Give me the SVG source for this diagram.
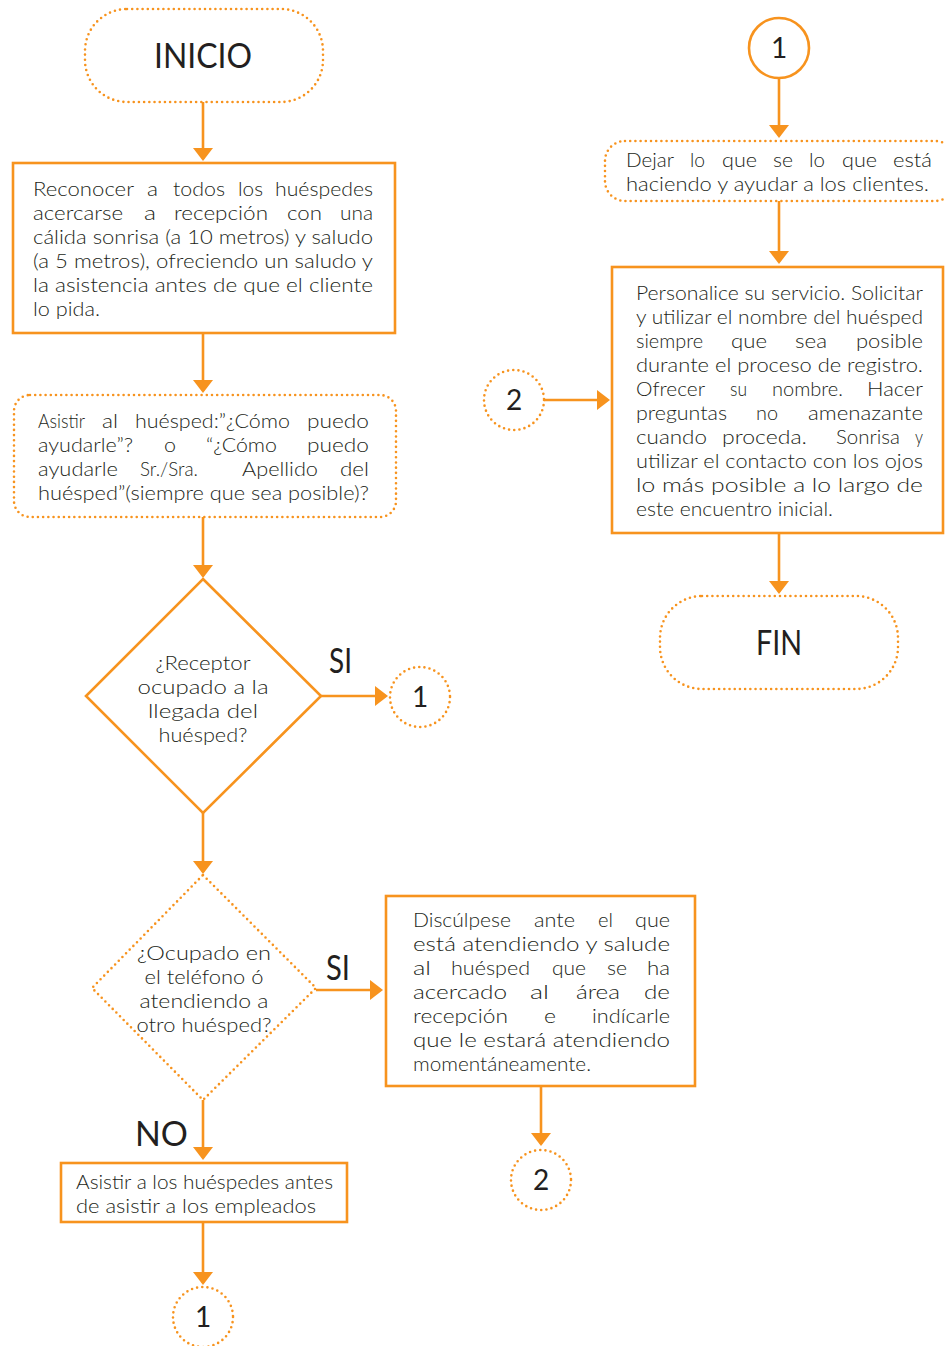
<svg xmlns="http://www.w3.org/2000/svg" width="945" height="1346" viewBox="0 0 945 1346">
  <defs>
    <style>
      .solid { fill: #ffffff; stroke: #F7931E; stroke-width: 2.6; }
      .dot { fill: #ffffff; stroke: #F7931E; stroke-width: 2.6; stroke-dasharray: 0 5.2; stroke-linecap: round; }
      .link { fill: none; stroke: #F7931E; stroke-width: 2.6; marker-end: url(#head); }
      text { font-family: Lato, "Open Sans", "Liberation Sans", sans-serif; fill: #231F20; }
      .b { font-size: 19px; font-weight: 300; }
      .c { font-size: 19px; font-weight: 300; text-anchor: middle; }
      .big { font-size: 35px; font-weight: 400; text-anchor: middle; }
      .lab { font-size: 34px; font-weight: 400; }
      .num { font-size: 28px; font-weight: 400; text-anchor: middle; }
    </style>
    <marker id="head" markerUnits="userSpaceOnUse" viewBox="0 0 13 20" refX="11" refY="10" markerWidth="13" markerHeight="20" orient="auto">
      <path d="M0,0 L13,10 L0,20 Z" fill="#F7931E"/>
    </marker>
  </defs>

  <rect width="945" height="1346" fill="#ffffff"/>

  <!-- connectors -->
  <g id="connectors">
    <path class="link" d="M203,102 V159"/>
    <path class="link" d="M203,333 V391"/>
    <path class="link" d="M203,517 V576"/>
    <path class="link" d="M321,696 H386"/>
    <path class="link" d="M203,813 V872"/>
    <path class="link" d="M316,990 H381"/>
    <path class="link" d="M203,1100 V1158"/>
    <path class="link" d="M541,1086 V1144"/>
    <path class="link" d="M203,1223 V1283"/>
    <path class="link" d="M779,78 V136"/>
    <path class="link" d="M779,201 V262"/>
    <path class="link" d="M544,400 H608"/>
    <path class="link" d="M779,533 V592"/>
  </g>

  <g id="inicio">
    <rect class="dot" x="85" y="9" width="238" height="93" rx="42"/>
    <text class="big" x="203" y="68" textLength="98" lengthAdjust="spacingAndGlyphs">INICIO</text>
  </g>

  <g id="reconocer">
    <rect class="solid" x="13" y="163" width="382" height="170"/>
    <text class="b" y="196">
      <tspan x="33" textLength="101" lengthAdjust="spacingAndGlyphs">Reconocer</tspan>
    </text>
    <text class="b" x="147" y="196" textLength="11" lengthAdjust="spacingAndGlyphs">a</text>
    <text class="b" x="173" y="196" textLength="52" lengthAdjust="spacingAndGlyphs">todos</text>
    <text class="b" x="238" y="196" textLength="25" lengthAdjust="spacingAndGlyphs">los</text>
    <text class="b" x="275" y="196" textLength="98" lengthAdjust="spacingAndGlyphs">huéspedes</text>
    <text class="b" x="33" y="220" textLength="90" lengthAdjust="spacingAndGlyphs">acercarse</text>
    <text class="b" x="144" y="220" textLength="12" lengthAdjust="spacingAndGlyphs">a</text>
    <text class="b" x="174" y="220" textLength="94" lengthAdjust="spacingAndGlyphs">recepción</text>
    <text class="b" x="287" y="220" textLength="35" lengthAdjust="spacingAndGlyphs">con</text>
    <text class="b" x="340" y="220" textLength="33" lengthAdjust="spacingAndGlyphs">una</text>
    <text class="b" x="33" y="244" textLength="340" lengthAdjust="spacingAndGlyphs">cálida sonrisa (a 10 metros) y saludo</text>
    <text class="b" x="33" y="268" textLength="340" lengthAdjust="spacingAndGlyphs">(a 5 metros), ofreciendo un saludo y</text>
    <text class="b" x="33" y="292" textLength="340" lengthAdjust="spacingAndGlyphs">la asistencia antes de que el cliente</text>
    <text class="b" x="33" y="316" textLength="67" lengthAdjust="spacingAndGlyphs">lo pida.</text>
  </g>

  <g id="asistir-huesped">
    <rect class="dot" x="14" y="395" width="382" height="122" rx="16"/>
    <text class="b" x="38" y="428" textLength="47" lengthAdjust="spacingAndGlyphs">Asistir</text>
    <text class="b" x="102" y="428" textLength="16" lengthAdjust="spacingAndGlyphs">al</text>
    <text class="b" x="135" y="428" textLength="155" lengthAdjust="spacingAndGlyphs">huésped:”¿Cómo</text>
    <text class="b" x="307" y="428" textLength="62" lengthAdjust="spacingAndGlyphs">puedo</text>
    <text class="b" x="38" y="452" textLength="95" lengthAdjust="spacingAndGlyphs">ayudarle”?</text>
    <text class="b" x="164" y="452" textLength="12" lengthAdjust="spacingAndGlyphs">o</text>
    <text class="b" x="206" y="452" textLength="71" lengthAdjust="spacingAndGlyphs">“¿Cómo</text>
    <text class="b" x="307" y="452" textLength="62" lengthAdjust="spacingAndGlyphs">puedo</text>
    <text class="b" x="38" y="476" textLength="80" lengthAdjust="spacingAndGlyphs">ayudarle</text>
    <text class="b" x="140" y="476" textLength="58" lengthAdjust="spacingAndGlyphs">Sr./Sra.</text>
    <text class="b" x="242" y="476" textLength="76" lengthAdjust="spacingAndGlyphs">Apellido</text>
    <text class="b" x="340" y="476" textLength="29" lengthAdjust="spacingAndGlyphs">del</text>
    <text class="b" x="38" y="500" textLength="331" lengthAdjust="spacingAndGlyphs">huésped”(siempre que sea posible)?</text>
  </g>

  <g id="receptor-ocupado">
    <polygon class="solid" points="203,579 321,696 203,813 86,696"/>
    <text class="c" x="203" y="670" textLength="95" lengthAdjust="spacingAndGlyphs">¿Receptor</text>
    <text class="c" x="203" y="694" textLength="131" lengthAdjust="spacingAndGlyphs">ocupado a la</text>
    <text class="c" x="203" y="718" textLength="110" lengthAdjust="spacingAndGlyphs">llegada del</text>
    <text class="c" x="203" y="742" textLength="89" lengthAdjust="spacingAndGlyphs">huésped?</text>
    <text class="lab" x="329" y="673" textLength="23" lengthAdjust="spacingAndGlyphs">SI</text>
  </g>

  <g id="conector-1a">
    <circle class="dot" cx="420" cy="697" r="30"/>
    <text class="num" x="420" y="707">1</text>
  </g>

  <g id="ocupado-telefono">
    <polygon class="dot" points="203,875 316,988 203,1100 92,988"/>
    <text class="c" x="204" y="960" textLength="134" lengthAdjust="spacingAndGlyphs">¿Ocupado en</text>
    <text class="c" x="204" y="984" textLength="119" lengthAdjust="spacingAndGlyphs">el teléfono ó</text>
    <text class="c" x="204" y="1008" textLength="129" lengthAdjust="spacingAndGlyphs">atendiendo a</text>
    <text class="c" x="204" y="1032" textLength="135" lengthAdjust="spacingAndGlyphs">otro huésped?</text>
    <text class="lab" x="326" y="980" textLength="24" lengthAdjust="spacingAndGlyphs">SI</text>
    <text class="lab" x="135" y="1146" textLength="53" lengthAdjust="spacingAndGlyphs">NO</text>
  </g>

  <g id="disculpese">
    <rect class="solid" x="386" y="896" width="309" height="190"/>
    <text class="b" x="413" y="927" textLength="98" lengthAdjust="spacingAndGlyphs">Discúlpese</text>
    <text class="b" x="534" y="927" textLength="41" lengthAdjust="spacingAndGlyphs">ante</text>
    <text class="b" x="598" y="927" textLength="15" lengthAdjust="spacingAndGlyphs">el</text>
    <text class="b" x="635" y="927" textLength="35" lengthAdjust="spacingAndGlyphs">que</text>
    <text class="b" x="413" y="951" textLength="257" lengthAdjust="spacingAndGlyphs">está atendiendo y salude</text>
    <text class="b" x="413" y="975" textLength="18" lengthAdjust="spacingAndGlyphs">al</text>
    <text class="b" x="451" y="975" textLength="79" lengthAdjust="spacingAndGlyphs">huésped</text>
    <text class="b" x="552" y="975" textLength="34" lengthAdjust="spacingAndGlyphs">que</text>
    <text class="b" x="607" y="975" textLength="20" lengthAdjust="spacingAndGlyphs">se</text>
    <text class="b" x="647" y="975" textLength="23" lengthAdjust="spacingAndGlyphs">ha</text>
    <text class="b" x="413" y="999" textLength="94" lengthAdjust="spacingAndGlyphs">acercado</text>
    <text class="b" x="530" y="999" textLength="19" lengthAdjust="spacingAndGlyphs">al</text>
    <text class="b" x="576" y="999" textLength="44" lengthAdjust="spacingAndGlyphs">área</text>
    <text class="b" x="644" y="999" textLength="26" lengthAdjust="spacingAndGlyphs">de</text>
    <text class="b" x="413" y="1023" textLength="95" lengthAdjust="spacingAndGlyphs">recepción</text>
    <text class="b" x="544" y="1023" textLength="12" lengthAdjust="spacingAndGlyphs">e</text>
    <text class="b" x="592" y="1023" textLength="78" lengthAdjust="spacingAndGlyphs">indícarle</text>
    <text class="b" x="413" y="1047" textLength="257" lengthAdjust="spacingAndGlyphs">que le estará atendiendo</text>
    <text class="b" x="413" y="1071" textLength="178" lengthAdjust="spacingAndGlyphs">momentáneamente.</text>
  </g>

  <g id="conector-2a">
    <circle class="dot" cx="541" cy="1180" r="30"/>
    <text class="num" x="541" y="1190">2</text>
  </g>

  <g id="asistir-antes">
    <rect class="solid" x="61" y="1163" width="286" height="59"/>
    <text class="b" x="76" y="1189" textLength="257" lengthAdjust="spacingAndGlyphs">Asistir a los huéspedes antes</text>
    <text class="b" x="76" y="1213" textLength="240" lengthAdjust="spacingAndGlyphs">de asistir a los empleados</text>
  </g>

  <g id="conector-1b">
    <circle class="dot" cx="203" cy="1317" r="30"/>
    <text class="num" x="203" y="1327">1</text>
  </g>

  <g id="conector-1c">
    <circle class="solid" cx="779" cy="48" r="30"/>
    <text class="num" x="779" y="58">1</text>
  </g>

  <g id="dejar">
    <rect class="dot" x="605" y="141" width="350" height="60" rx="20"/>
    <text class="b" x="626" y="167" textLength="48" lengthAdjust="spacingAndGlyphs">Dejar</text>
    <text class="b" x="690" y="167" textLength="15" lengthAdjust="spacingAndGlyphs">lo</text>
    <text class="b" x="722" y="167" textLength="35" lengthAdjust="spacingAndGlyphs">que</text>
    <text class="b" x="773" y="167" textLength="20" lengthAdjust="spacingAndGlyphs">se</text>
    <text class="b" x="809" y="167" textLength="16" lengthAdjust="spacingAndGlyphs">lo</text>
    <text class="b" x="842" y="167" textLength="35" lengthAdjust="spacingAndGlyphs">que</text>
    <text class="b" x="893" y="167" textLength="39" lengthAdjust="spacingAndGlyphs">está</text>
    <text class="b" x="626" y="191" textLength="303" lengthAdjust="spacingAndGlyphs">haciendo y ayudar a los clientes.</text>
  </g>

  <g id="conector-2b">
    <circle class="dot" cx="514" cy="400" r="30"/>
    <text class="num" x="514" y="410">2</text>
  </g>

  <g id="personalice">
    <rect class="solid" x="612" y="267" width="331" height="266"/>
    <text class="b" x="636" y="300" textLength="287" lengthAdjust="spacingAndGlyphs">Personalice su servicio. Solicitar</text>
    <text class="b" x="636" y="324" textLength="287" lengthAdjust="spacingAndGlyphs">y utilizar el nombre del huésped</text>
    <text class="b" x="636" y="348" textLength="67" lengthAdjust="spacingAndGlyphs">siempre</text>
    <text class="b" x="731" y="348" textLength="36" lengthAdjust="spacingAndGlyphs">que</text>
    <text class="b" x="795" y="348" textLength="32" lengthAdjust="spacingAndGlyphs">sea</text>
    <text class="b" x="856" y="348" textLength="67" lengthAdjust="spacingAndGlyphs">posible</text>
    <text class="b" x="636" y="372" textLength="287" lengthAdjust="spacingAndGlyphs">durante el proceso de registro.</text>
    <text class="b" x="636" y="396" textLength="69" lengthAdjust="spacingAndGlyphs">Ofrecer</text>
    <text class="b" x="730" y="396" textLength="17" lengthAdjust="spacingAndGlyphs">su</text>
    <text class="b" x="772" y="396" textLength="71" lengthAdjust="spacingAndGlyphs">nombre.</text>
    <text class="b" x="867" y="396" textLength="56" lengthAdjust="spacingAndGlyphs">Hacer</text>
    <text class="b" x="636" y="420" textLength="91" lengthAdjust="spacingAndGlyphs">preguntas</text>
    <text class="b" x="756" y="420" textLength="22" lengthAdjust="spacingAndGlyphs">no</text>
    <text class="b" x="808" y="420" textLength="115" lengthAdjust="spacingAndGlyphs">amenazante</text>
    <text class="b" x="636" y="444" textLength="71" lengthAdjust="spacingAndGlyphs">cuando</text>
    <text class="b" x="722" y="444" textLength="85" lengthAdjust="spacingAndGlyphs">proceda.</text>
    <text class="b" x="836" y="444" textLength="64" lengthAdjust="spacingAndGlyphs">Sonrisa</text>
    <text class="b" x="915" y="444" textLength="8" lengthAdjust="spacingAndGlyphs">y</text>
    <text class="b" x="636" y="468" textLength="287" lengthAdjust="spacingAndGlyphs">utilizar el contacto con los ojos</text>
    <text class="b" x="636" y="492" textLength="287" lengthAdjust="spacingAndGlyphs">lo más posible a lo largo de</text>
    <text class="b" x="636" y="516" textLength="197" lengthAdjust="spacingAndGlyphs">este encuentro inicial.</text>
  </g>

  <g id="fin">
    <rect class="dot" x="660" y="596" width="238" height="93" rx="42"/>
    <text class="big" x="779" y="655" textLength="46" lengthAdjust="spacingAndGlyphs">FIN</text>
  </g>
</svg>
